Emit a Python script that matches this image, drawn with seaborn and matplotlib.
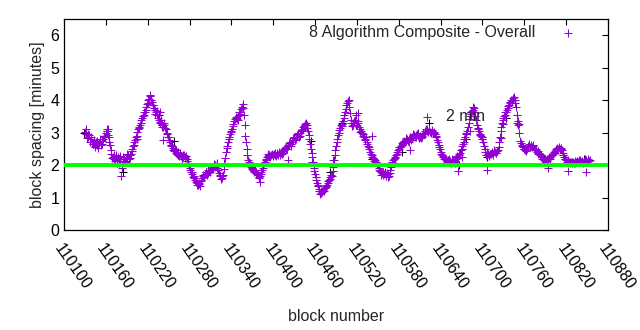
import matplotlib
matplotlib.use("Agg")
import matplotlib.pyplot as plt
import seaborn as sns
import pandas as pd

# block spacing in minutes
# even blocks 110130, 110132, ...
start_even = 110130
spacing_even = [
    3.02, 2.95, 2.88, 2.92, 2.80, 2.72, 2.66, 2.60, 2.70, 2.62,
    2.68, 2.74, 2.66, 2.80, 2.86, 2.98, 3.05, 2.85, 2.62, 2.35,
    2.25, 2.20, 2.28, 2.15, 2.22, 2.18, 1.65, 2.12, 2.20, 2.08,
    2.25, 2.30, 2.22, 2.35, 2.50, 2.62, 2.78, 2.90, 3.10, 3.15,
    3.30, 3.45, 3.55, 3.62, 3.78, 3.92, 4.05, 4.12, 3.95, 3.85,
    3.70, 3.62, 3.55, 3.40, 3.32, 3.28, 3.18, 3.25, 3.10, 2.95,
    2.85, 2.72, 2.60, 2.52, 2.42, 2.45, 2.35, 2.30, 2.38, 2.28,
    2.25, 2.30, 2.22, 2.20, 2.05, 1.90, 1.80, 1.72, 1.65, 1.55,
    1.45, 1.38, 1.42, 1.50, 1.60, 1.68, 1.72, 1.78, 1.75, 1.82,
    1.85, 1.90, 1.95, 2.00, 1.98, 1.92, 1.75, 1.65, 1.60, 1.70,
    2.05, 2.40, 2.60, 2.80, 2.95, 3.05, 3.20, 3.35, 3.45, 3.42,
    3.50, 3.58, 3.72, 3.88, 3.55, 2.90, 2.50, 2.15, 2.05, 1.95,
    1.88, 1.82, 1.85, 1.75, 1.68, 1.60, 1.72, 1.85, 2.00, 2.10,
    2.20, 2.28, 2.32, 2.25, 2.35, 2.30, 2.38, 2.28, 2.35, 2.40,
    2.30, 2.42, 2.38, 2.48, 2.55, 2.50, 2.62, 2.70, 2.65, 2.78,
    2.85, 2.80, 2.92, 2.98, 2.90, 3.05, 3.12, 3.20, 3.28, 3.22,
    3.05, 2.80, 2.50, 2.25, 1.90, 1.72, 1.55, 1.35, 1.20, 1.15,
    1.18, 1.25, 1.28, 1.35, 1.45, 1.55, 1.62, 1.65, 1.95, 2.30,
    2.60, 2.80, 3.00, 3.15, 3.20, 3.35, 3.55, 3.72, 3.92, 4.02,
    3.60, 3.30, 3.25, 3.35, 3.30, 3.22, 3.30, 3.10, 3.05, 2.95,
    2.85, 2.80, 2.72, 2.60, 2.48, 2.35, 2.25, 2.20, 2.15, 2.08,
    2.00, 1.85, 1.78, 1.75, 1.70, 1.78, 1.68, 1.72, 1.65, 1.85,
    2.05, 2.15, 2.22, 2.30, 2.40, 2.50, 2.55, 2.62, 2.70, 2.68,
    2.75, 2.80, 2.72, 2.85, 2.78, 2.88, 2.92, 2.85, 2.95, 2.90,
    2.85, 2.82, 2.90, 2.95, 3.05, 3.10, 3.02, 3.08, 3.00, 3.05,
    3.00, 2.95, 2.85, 2.70, 2.55, 2.40, 2.30, 2.25, 2.20, 2.15,
    2.12, 2.18, 2.08, 2.10, 2.15, 2.05, 2.20, 2.25, 2.30, 2.38,
    2.50, 2.65, 2.80, 2.95, 3.05, 3.30, 3.50, 3.62, 3.70, 3.75,
    3.50, 3.25, 3.10, 2.95, 2.90, 2.80, 2.60, 2.40, 2.30, 2.35,
    2.30, 2.35, 2.38, 2.42, 2.40, 2.38, 2.45, 2.70, 3.05, 3.30,
    3.45, 3.55, 3.65, 3.75, 3.85, 3.95, 4.00, 4.08, 4.02, 3.80,
    3.30, 3.28, 2.75, 2.62, 2.55, 2.48, 2.42, 2.50, 2.60, 2.55,
    2.62, 2.58, 2.50, 2.45, 2.40, 2.42, 2.35, 2.30, 2.20, 2.15,
    2.18, 2.12, 2.20, 2.25, 2.28, 2.30, 2.38, 2.42, 2.45, 2.50,
    2.55, 2.48, 2.45, 2.30, 2.20, 2.15, 2.12, 2.10, 2.08, 2.05,
    2.10, 2.05, 2.08, 2.12, 2.10, 2.15, 2.08, 2.05, 2.12, 2.15,
    2.10, 2.18, 2.15,
]
# odd blocks 110131, 110133, ...
start_odd = 110131
spacing_odd = [
    3.10, 2.82, 2.95, 2.72, 2.86, 2.64, 2.77, 2.55, 2.74, 2.53,
    2.80, 2.62, 2.75, 2.90, 2.88, 3.12, 2.92, 2.70, 2.45, 2.22,
    2.32, 2.12, 2.30, 2.25, 2.05, 2.28, 1.90, 2.25, 2.12, 2.20,
    2.35, 2.18, 2.30, 2.42, 2.60, 2.70, 2.88, 3.02, 3.18, 3.25,
    3.40, 3.52, 3.65, 3.70, 3.88, 4.00, 4.15, 4.02, 3.85, 3.75,
    3.58, 3.68, 3.45, 3.30, 3.40, 3.18, 3.30, 3.15, 3.00, 2.88,
    2.78, 2.62, 2.58, 2.45, 2.50, 2.38, 2.40, 2.28, 2.35, 2.20,
    2.32, 2.25, 2.28, 2.12, 1.98, 1.85, 1.78, 1.62, 1.60, 1.48,
    1.40, 1.45, 1.35, 1.55, 1.65, 1.62, 1.80, 1.70, 1.85, 1.78,
    1.92, 1.88, 2.02, 1.95, 2.05, 1.85, 1.68, 1.58, 1.65, 1.88,
    2.22, 2.52, 2.72, 2.88, 3.02, 3.12, 3.28, 3.42, 3.48, 3.40,
    3.62, 3.65, 3.80, 3.75, 3.22, 2.70, 2.30, 2.10, 2.00, 1.90,
    1.85, 1.78, 1.80, 1.72, 1.62, 1.65, 1.78, 1.92, 2.05, 2.15,
    2.25, 2.35, 2.28, 2.32, 2.28, 2.35, 2.32, 2.38, 2.30, 2.35,
    2.38, 2.35, 2.45, 2.52, 2.48, 2.58, 2.68, 2.60, 2.72, 2.82,
    2.78, 2.88, 2.95, 2.85, 3.00, 3.08, 3.18, 3.22, 3.30, 3.15,
    2.92, 2.65, 2.38, 2.10, 1.82, 1.62, 1.45, 1.25, 1.12, 1.20,
    1.22, 1.20, 1.32, 1.40, 1.50, 1.58, 1.68, 1.82, 2.15, 2.45,
    2.70, 2.92, 3.08, 3.25, 3.28, 3.45, 3.65, 3.85, 3.98, 3.80,
    3.40, 3.20, 3.30, 3.38, 3.25, 3.35, 3.18, 3.02, 3.00, 2.90,
    2.78, 2.85, 2.65, 2.55, 2.40, 2.30, 2.22, 2.12, 2.10, 2.02,
    1.92, 1.82, 1.70, 1.78, 1.72, 1.65, 1.75, 1.62, 1.75, 1.95,
    2.10, 2.20, 2.25, 2.35, 2.45, 2.55, 2.60, 2.68, 2.75, 2.72,
    2.82, 2.75, 2.80, 2.82, 2.85, 2.95, 2.88, 2.92, 2.98, 2.82,
    2.90, 2.85, 2.98, 3.00, 3.12, 3.05, 3.10, 3.02, 3.08, 2.98,
    3.02, 2.90, 2.78, 2.62, 2.48, 2.35, 2.28, 2.18, 2.22, 2.10,
    2.15, 2.12, 2.05, 2.18, 2.10, 2.12, 2.28, 2.22, 2.35, 2.45,
    2.58, 2.72, 2.88, 3.00, 3.18, 3.42, 3.58, 3.68, 3.78, 3.65,
    3.38, 3.15, 3.05, 2.92, 2.85, 2.70, 2.50, 2.32, 2.40, 2.28,
    2.35, 2.40, 2.32, 2.45, 2.38, 2.42, 2.55, 2.88, 3.18, 3.38,
    3.50, 3.62, 3.70, 3.82, 3.90, 4.02, 3.98, 4.10, 3.92, 3.55,
    3.35, 3.00, 2.68, 2.58, 2.50, 2.45, 2.48, 2.55, 2.65, 2.58,
    2.55, 2.62, 2.45, 2.48, 2.35, 2.38, 2.32, 2.25, 2.18, 2.12,
    2.15, 2.18, 2.22, 2.20, 2.32, 2.35, 2.40, 2.48, 2.52, 2.45,
    2.50, 2.52, 2.38, 2.25, 2.18, 2.10, 2.15, 2.05, 2.10, 2.08,
    2.05, 2.12, 2.10, 2.08, 2.15, 2.10, 2.12, 2.08, 2.18, 2.10,
    2.15, 2.12,
]
blocks_even = list(range(start_even, start_even + 2 * len(spacing_even), 2))
blocks_odd = list(range(start_odd, start_odd + 2 * len(spacing_odd), 2))

# isolated purple points lying off the main band
extra_blocks = [110163, 110204, 110238, 110242, 110381, 110421, 110455, 110464,
                110486, 110519, 110521, 110541, 110596, 110620, 110665, 110670,
                110682, 110706, 110727, 110729, 110751, 110794, 110823, 110849]
extra_vals = [3.12, 2.81, 3.62, 2.78, 1.48, 2.17, 2.09, 1.38,
              2.16, 3.55, 3.60, 2.90, 2.45, 3.47, 1.83, 2.24,
              3.06, 1.85, 2.82, 3.27, 3.22, 1.90, 1.83, 1.78]

# a few points of a second (black) series visible under the purple one
black_blocks = [110128, 110162, 110176, 110184, 110236, 110240, 110258, 110320,
                110352, 110394, 110454, 110482, 110498, 110542, 110584, 110624,
                110666, 110676, 110706, 110734, 110788, 110816, 110846]
black_vals = [3.0, 3.05, 2.05, 1.8, 3.55, 3.25, 2.75, 2.0, 3.55, 2.3, 2.75, 1.8,
              3.3, 2.2, 2.4, 3.3, 2.0, 2.8, 2.25, 3.45, 2.2, 2.3, 2.2]

target = 2.0
x_ticks = list(range(110100, 110881, 60))
y_ticks = [0, 1, 2, 3, 4, 5, 6]
series_label = "8 Algorithm Composite - Overall"
line_label = "2 min"

sns.set_style("white")
plt.rcParams['font.family'] = ['Liberation Sans', 'DejaVu Sans']
plt.rcParams['font.size'] = 11.5

fig, ax = plt.subplots(figsize=(6.4, 3.3), dpi=100)
fig.subplots_adjust(left=64/640, right=608/640, top=1-19/330, bottom=1-230/330)

df = pd.DataFrame({"block": blocks_even + blocks_odd + extra_blocks,
                   "spacing": spacing_even + spacing_odd + extra_vals})
dfb = pd.DataFrame({"block": black_blocks, "spacing": black_vals})

sns.scatterplot(data=dfb, x="block", y="spacing", marker="+", s=26, color="black",
                linewidth=0.75, ax=ax, zorder=2, legend=False)
sns.scatterplot(data=df, x="block", y="spacing", marker="+", s=26, color="#9400D3",
                linewidth=0.75, ax=ax, zorder=3, label=series_label)
ax.axhline(target, color="#00FF00", lw=2.8, zorder=4)
ax.text(110648, 3.49, line_label, va="center", ha="left", fontsize=11.5)

ax.set_xlim(110100, 110880)
ax.set_ylim(0, 6.5)
ax.set_xticks(x_ticks)
ax.set_yticks(y_ticks)
ax.set_xticklabels([str(t) for t in x_ticks], rotation=-55, ha="left", va="top",
                   rotation_mode="anchor")
ax.tick_params(direction="in", length=4, width=0.8, top=True, right=True,
               labelsize=11.5, colors="black")
ax.tick_params(axis="x", pad=8)
for s in ax.spines.values():
    s.set_color("black")
    s.set_linewidth(0.9)
ax.set_xlabel("block number", fontsize=11.5)
ax.set_ylabel("block spacing [minutes]", fontsize=11.5)

ax.legend(loc="upper right", bbox_to_anchor=(0.98, 1.03), frameon=False,
          markerfirst=False, fontsize=11.5, handletextpad=1.1, borderaxespad=0.4)
ax.xaxis.set_label_coords(0.5, -0.375)

fig.savefig("out.png", dpi=100)
